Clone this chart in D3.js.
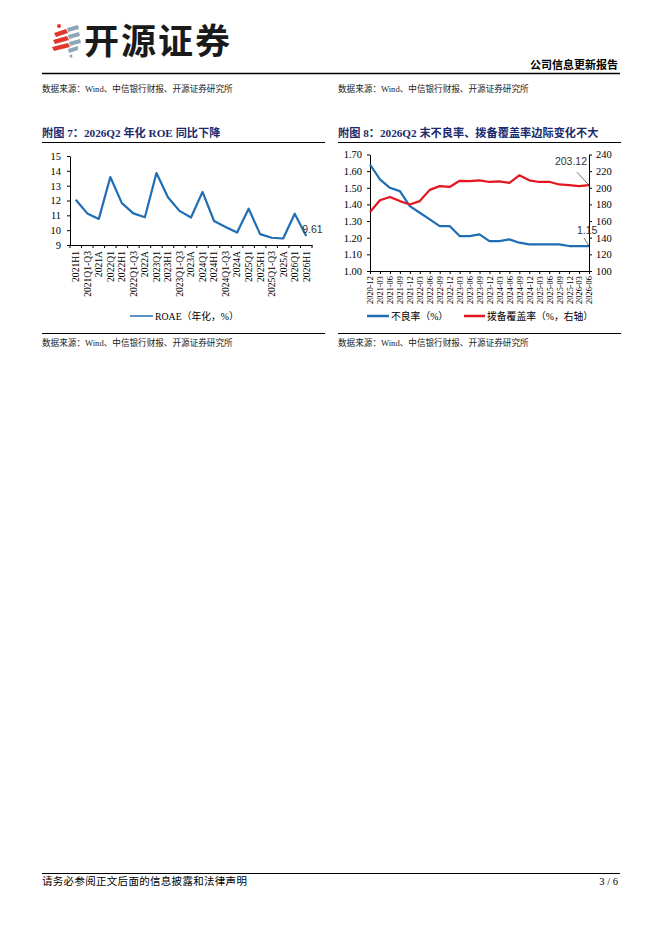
<!DOCTYPE html>
<html>
<head>
<meta charset="utf-8">
<script src="https://cdn.jsdelivr.net/npm/d3@7"></script>
<style>
  body { margin: 0; background: #fff; }
  svg { display: block; }
</style>
</head>
<body>
<div id="page"></div>
<script>
// ROE chart data
const roeCats = ['2021H1', '2021Q1-Q3', '2021A', '2022Q1', '2022H1', '2022Q1-Q3', '2022A',
  '2023Q1', '2023H1', '2023Q1-Q3', '2023A', '2024Q1', '2024H1', '2024Q1-Q3', '2024A',
  '2025Q1', '2025H1', '2025Q1-Q3', '2025A', '2026Q1', '2026H1'];
const roeVals = [12.05, 11.13, 10.76, 13.58, 11.82, 11.13, 10.87, 13.85, 12.22, 11.3, 10.85,
  12.58, 10.62, 10.22, 9.84, 11.45, 9.73, 9.49, 9.44, 11.11, 9.61];
const roeTicks = [9, 10, 11, 12, 13, 14, 15];

// NPL / coverage chart data
const qCats = ['2020-12', '2021-03', '2021-06', '2021-09', '2021-12', '2022-03', '2022-06',
  '2022-09', '2022-12', '2023-03', '2023-06', '2023-09', '2023-12', '2024-03', '2024-06',
  '2024-09', '2024-12', '2025-03', '2025-06', '2025-09', '2025-12', '2026-03', '2026-06'];
const nplVals = [1.64, 1.55, 1.50, 1.48, 1.39, 1.35, 1.31, 1.27, 1.27, 1.21, 1.21, 1.22,
  1.18, 1.18, 1.19, 1.17, 1.16, 1.16, 1.16, 1.16, 1.15, 1.15, 1.15];
const covVals = [171, 185, 189, 184, 180, 184, 197.5, 202, 201, 208.4, 208, 209, 207, 207.6,
  206, 215, 209, 207, 207.2, 204, 203.2, 202, 203.12];
const nplTicks = [1.00, 1.10, 1.20, 1.30, 1.40, 1.50, 1.60, 1.70];
const covTicks = [100, 120, 140, 160, 180, 200, 220, 240];

const sourceText = '数据来源：Wind、中信银行财报、开源证券研究所';

const W = 662, H = 936;
const serif = "'Liberation Serif', 'Noto Sans CJK SC', serif";
const sans = "'Liberation Sans', Arial, sans-serif";
const cjk = "'Noto Sans CJK SC', sans-serif";
const blue = '#1f6db3';
const red = '#e3161f';
const navy = '#1b2a6e';

const svg = d3.select('#page').append('svg')
  .attr('width', W)
  .attr('height', H);

svg.append('rect').attr('width', W).attr('height', H).attr('fill', '#fff');

//
// Page header
//
const logo = svg.append('g').attr('class', 'logo');
const redBars = [
  [[54, 33], [66, 29], [68, 33], [56, 37]],
  [[53, 40], [67, 36], [69, 40], [55, 44]],
  [[52, 47], [68, 43], [70, 47], [54, 51]]
];
redBars.forEach(p => logo.append('polygon')
  .attr('points', p.map(d => d.join(',')).join(' '))
  .attr('fill', '#e0392b'));
logo.append('circle').attr('cx', 59).attr('cy', 26).attr('r', 2).attr('fill', '#e0392b');
const greyBars = [
  [[67, 28], [78, 25], [79, 29], [68, 32]],
  [[68, 35], [79, 32], [80, 36], [69, 39]],
  [[69, 42], [80, 39], [81, 43], [70, 46]],
  [[68, 49], [78, 46], [78, 50], [69, 53]]
];
greyBars.forEach(p => logo.append('polygon')
  .attr('points', p.map(d => d.join(',')).join(' '))
  .attr('fill', '#8fa6b8'));
logo.append('circle').attr('cx', 71).attr('cy', 56).attr('r', 1.5).attr('fill', '#8fa6b8');

logo.append('text')
  .attr('x', 84).attr('y', 54)
  .style('font-family', cjk)
  .style('font-size', '35px')
  .style('font-weight', 700)
  .style('fill', '#1a1a1a')
  .style('letter-spacing', '2px')
  .text('开源证券');

svg.append('text')
  .attr('x', 618).attr('y', 69)
  .attr('text-anchor', 'end')
  .style('font-family', cjk)
  .style('font-size', '11px')
  .style('font-weight', 700)
  .text('公司信息更新报告');

svg.append('line')
  .attr('x1', 42).attr('x2', 620).attr('y1', 73.5).attr('y2', 73.5)
  .attr('stroke', '#000').attr('stroke-width', 1.5);

[42, 338].forEach(x => {
  svg.append('text')
    .attr('x', x).attr('y', 92)
    .style('font-family', serif)
    .style('font-size', '8.6px')
    .style('fill', '#222')
    .text(sourceText);
});

//
// Panel frame (title, rules, source)
//
function panelFrame(x0, x1, title) {
  svg.append('text')
    .attr('x', x0).attr('y', 137)
    .style('font-family', serif)
    .style('font-size', '11.2px')
    .style('font-weight', 700)
    .style('fill', navy)
    .text(title);
  svg.append('line')
    .attr('x1', x0).attr('x2', x1).attr('y1', 142.5).attr('y2', 142.5)
    .attr('stroke', '#000').attr('stroke-width', 1.2);
  svg.append('line')
    .attr('x1', x0).attr('x2', x1).attr('y1', 333.5).attr('y2', 333.5)
    .attr('stroke', '#000').attr('stroke-width', 1.2);
  svg.append('text')
    .attr('x', x0).attr('y', 346)
    .style('font-family', serif)
    .style('font-size', '8.6px')
    .style('fill', '#222')
    .text(sourceText);
}

function styleAxis(g, size) {
  g.select('.domain').attr('stroke', '#000').attr('stroke-width', 1);
  g.selectAll('.tick line').attr('stroke', '#000');
  g.selectAll('text')
    .style('font-family', serif)
    .style('font-size', size)
    .style('fill', '#000');
}

//
// Chart 7: ROE
//
panelFrame(42, 325, '附图 7：2026Q2 年化 ROE 同比下降');

const x7 = d3.scaleBand().domain(roeCats).range([70, 312]);
const y7 = d3.scaleLinear().domain([9, 15]).range([245, 156]);

const y7Axis = svg.append('g')
  .attr('transform', 'translate(70,0)')
  .call(d3.axisLeft(y7).tickValues(roeTicks).tickFormat(d3.format('d'))
    .tickSize(3).tickSizeOuter(0).tickPadding(6));
styleAxis(y7Axis, '10.5px');

const x7Axis = svg.append('g')
  .attr('transform', 'translate(0,245)')
  .call(d3.axisBottom(x7).tickSize(0).tickSizeOuter(0));
styleAxis(x7Axis, '9.6px');
x7Axis.selectAll('text')
  .attr('transform', 'rotate(-90)')
  .attr('x', -6)
  .attr('y', 0)
  .attr('dy', '0.35em')
  .style('text-anchor', 'end');

// tick marks at category boundaries
const x7Bounds = roeCats.map(c => x7(c)).concat([x7.range()[1]]);
svg.append('g').selectAll('line')
  .data(x7Bounds)
  .enter().append('line')
  .attr('x1', d => d).attr('x2', d => d)
  .attr('y1', 245).attr('y2', 248)
  .attr('stroke', '#000');

const roeLine = d3.line()
  .x((d, i) => x7(roeCats[i]) + x7.bandwidth() / 2)
  .y(d => y7(d));

svg.append('path')
  .datum(roeVals)
  .attr('d', roeLine)
  .attr('fill', 'none')
  .attr('stroke', blue)
  .attr('stroke-width', 2.2)
  .attr('stroke-linejoin', 'round');

const lastRoeX = x7(roeCats[roeCats.length - 1]) + x7.bandwidth() / 2;
const lastRoe = roeVals[roeVals.length - 1];
svg.append('text')
  .attr('x', lastRoeX - 4)
  .attr('y', y7(lastRoe) - 2.5)
  .style('font-family', sans)
  .style('font-size', '10.5px')
  .style('fill', '#333')
  .text(lastRoe.toFixed(2));

// legend
svg.append('line')
  .attr('x1', 130).attr('x2', 153).attr('y1', 316).attr('y2', 316)
  .attr('stroke', blue).attr('stroke-width', 1.5);
svg.append('text')
  .attr('x', 155).attr('y', 319.5)
  .style('font-family', serif)
  .style('font-size', '9.8px')
  .text('ROAE（年化，%）');

//
// Chart 8: NPL ratio & provision coverage
//
panelFrame(338, 621, '附图 8：2026Q2 末不良率、拨备覆盖率边际变化不大');

const x8 = d3.scalePoint().domain(qCats).range([370, 589]);
const yL = d3.scaleLinear().domain([1.0, 1.7]).range([271, 154.5]);
const yR = d3.scaleLinear().domain([100, 240]).range([271, 154.5]);

const yLAxis = svg.append('g')
  .attr('transform', 'translate(370,0)')
  .call(d3.axisLeft(yL).tickValues(nplTicks).tickFormat(d3.format('.2f'))
    .tickSize(3).tickSizeOuter(0).tickPadding(5));
styleAxis(yLAxis, '10.5px');

const yRAxis = svg.append('g')
  .attr('transform', 'translate(589,0)')
  .call(d3.axisRight(yR).tickValues(covTicks).tickSize(3).tickSizeOuter(0).tickPadding(4));
styleAxis(yRAxis, '10.5px');

const x8Axis = svg.append('g')
  .attr('transform', 'translate(0,271)')
  .call(d3.axisBottom(x8).tickSize(3).tickSizeOuter(0));
styleAxis(x8Axis, '8.4px');
x8Axis.selectAll('text')
  .attr('transform', 'rotate(-90)')
  .attr('x', -5)
  .attr('y', 0)
  .attr('dy', '0.35em')
  .style('text-anchor', 'end');

const nplLine = d3.line()
  .x((d, i) => x8(qCats[i]))
  .y(d => yL(d));
const covLine = d3.line()
  .x((d, i) => x8(qCats[i]))
  .y(d => yR(d));

svg.append('path')
  .datum(nplVals)
  .attr('d', nplLine)
  .attr('fill', 'none')
  .attr('stroke', blue)
  .attr('stroke-width', 2.2)
  .attr('stroke-linejoin', 'round');

svg.append('path')
  .datum(covVals)
  .attr('d', covLine)
  .attr('fill', 'none')
  .attr('stroke', red)
  .attr('stroke-width', 2.2)
  .attr('stroke-linejoin', 'round');

// end-point callouts
const lastQ = qCats[qCats.length - 1];
const lastCov = covVals[covVals.length - 1];
const lastNpl = nplVals[nplVals.length - 1];

svg.append('line')
  .attr('x1', x8(lastQ) - 12).attr('y1', yR(lastCov) - 13)
  .attr('x2', x8(lastQ)).attr('y2', yR(lastCov))
  .attr('stroke', '#333').attr('stroke-width', 0.7);
svg.append('text')
  .attr('x', x8(lastQ) - 2).attr('y', yR(lastCov) - 20)
  .attr('text-anchor', 'end')
  .style('font-family', sans)
  .style('font-size', '10.5px')
  .style('fill', '#333')
  .text(lastCov.toFixed(2));

svg.append('line')
  .attr('x1', x8(lastQ) - 5).attr('y1', yL(lastNpl) - 8)
  .attr('x2', x8(lastQ)).attr('y2', yL(lastNpl))
  .attr('stroke', '#333').attr('stroke-width', 0.7);
svg.append('text')
  .attr('x', x8(lastQ) - 12).attr('y', yL(lastNpl) - 12)
  .style('font-family', sans)
  .style('font-size', '10.5px')
  .style('fill', '#333')
  .text(lastNpl.toFixed(2));

// legend
svg.append('line')
  .attr('x1', 367).attr('x2', 389).attr('y1', 316).attr('y2', 316)
  .attr('stroke', blue).attr('stroke-width', 2.5);
svg.append('text')
  .attr('x', 391).attr('y', 319.5)
  .style('font-family', serif)
  .style('font-size', '9.8px')
  .text('不良率（%）');
svg.append('line')
  .attr('x1', 464).attr('x2', 485).attr('y1', 316).attr('y2', 316)
  .attr('stroke', red).attr('stroke-width', 2.5);
svg.append('text')
  .attr('x', 487).attr('y', 319.5)
  .style('font-family', serif)
  .style('font-size', '9.8px')
  .text('拨备覆盖率（%，右轴）');

//
// Footer
//
svg.append('line')
  .attr('x1', 42).attr('x2', 620).attr('y1', 873.5).attr('y2', 873.5)
  .attr('stroke', '#000').attr('stroke-width', 1);
svg.append('text')
  .attr('x', 42).attr('y', 885)
  .style('font-family', serif)
  .style('font-size', '10.5px')
  .style('letter-spacing', '0.3px')
  .text('请务必参阅正文后面的信息披露和法律声明');
svg.append('text')
  .attr('x', 618).attr('y', 885)
  .attr('text-anchor', 'end')
  .style('font-family', serif)
  .style('font-size', '10.5px')
  .text('3 / 6');
</script>
</body>
</html>
